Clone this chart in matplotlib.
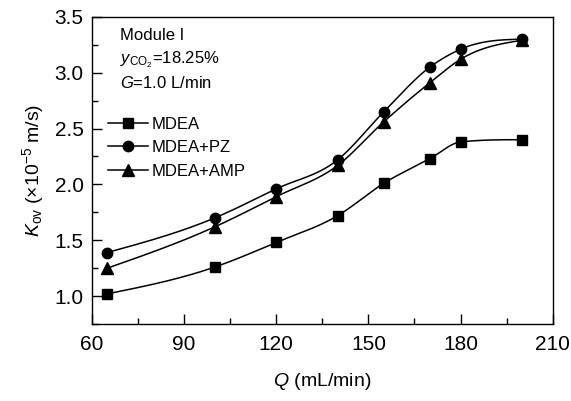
import numpy as np
import matplotlib
matplotlib.use("Agg")
import matplotlib.pyplot as plt
from matplotlib.ticker import MultipleLocator

plt.rcParams['font.family'] = ['Liberation Sans', 'DejaVu Sans']
plt.rcParams['mathtext.fontset'] = 'custom'
plt.rcParams['mathtext.rm'] = 'Liberation Sans'
plt.rcParams['mathtext.it'] = 'Liberation Sans:italic'
plt.rcParams['mathtext.bf'] = 'Liberation Sans:bold'

# liquid flow rate Q (mL/min)
flow = [65, 100, 120, 140, 155, 170, 180, 200]
# K_ov (x1e-5 m/s)
mdea = [1.02, 1.26, 1.48, 1.72, 2.01, 2.23, 2.38, 2.40]
mdea_pz = [1.39, 1.70, 1.96, 2.22, 2.65, 3.05, 3.21, 3.30]
mdea_amp = [1.25, 1.62, 1.89, 2.17, 2.56, 2.91, 3.12, 3.29]


def smooth(x, y, n=300):
    # cubic hermite curve with centred tangents (limited so it never overshoots)
    x = np.asarray(x, float)
    y = np.asarray(y, float)
    h = np.diff(x)
    d = np.diff(y) / h
    m = np.zeros_like(y)
    for i in range(1, len(x) - 1):
        if d[i - 1] * d[i] <= 0:
            continue
        mi = (d[i - 1] * h[i] + d[i] * h[i - 1]) / (h[i - 1] + h[i])
        m[i] = np.sign(mi) * min(abs(mi), 3 * abs(d[i - 1]), 3 * abs(d[i]))
    m[0] = 1.5 * d[0] - 0.5 * m[1]
    m[-1] = 1.5 * d[-1] - 0.5 * m[-2]
    if m[-1] * d[-1] < 0:
        m[-1] = 0
    xs = np.linspace(x[0], x[-1], n)
    idx = np.clip(np.searchsorted(x, xs) - 1, 0, len(x) - 2)
    t = (xs - x[idx]) / h[idx]
    h00 = 2 * t ** 3 - 3 * t ** 2 + 1
    h10 = t ** 3 - 2 * t ** 2 + t
    h01 = -2 * t ** 3 + 3 * t ** 2
    h11 = t ** 3 - t ** 2
    ys = h00 * y[idx] + h10 * h[idx] * m[idx] + h01 * y[idx + 1] + h11 * h[idx] * m[idx + 1]
    return xs, ys


fig = plt.figure(figsize=(5.71, 4.01), dpi=100)
ax = fig.add_axes([0.161, 0.192, 0.807, 0.766])

series = [(mdea, 's', 'MDEA'), (mdea_pz, 'o', 'MDEA+PZ'), (mdea_amp, '^', 'MDEA+AMP')]
for vals, mk, lab in series:
    xs, ys = smooth(flow, vals)
    ax.plot(xs, ys, color='black', lw=1.1)
    ax.plot(flow, vals, ls='none', marker=mk, color='black', ms=8 if mk == '^' else 7.5)
    ax.plot([], [], color='black', lw=1.1, marker=mk, ms=8 if mk == '^' else 7.5, label=lab)

ax.set_xlim(60, 210)
ax.set_ylim(0.75, 3.5)
ax.xaxis.set_major_locator(MultipleLocator(30))
ax.xaxis.set_minor_locator(MultipleLocator(15))
ax.yaxis.set_major_locator(MultipleLocator(0.5))
ax.yaxis.set_minor_locator(MultipleLocator(0.25))
ax.yaxis.set_major_formatter(plt.FormatStrFormatter('%.1f'))
ax.tick_params(which='both', direction='in', top=False, right=False, labelsize=15)
ax.tick_params(which='major', length=7, width=1)
ax.tick_params(which='minor', length=4, width=1)
ax.tick_params(axis='x', pad=8)
ax.tick_params(axis='y', pad=6)
for s in ax.spines.values():
    s.set_linewidth(1)

ax.set_xlabel('$Q$ (mL/min)', fontsize=14, labelpad=12)
ax.set_ylabel('$K_{\\mathrm{ov}}$ ($\\times$10$^{-5}$ m/s)', fontsize=14, labelpad=6)

ax.text(0.06, 0.94, 'Module I', transform=ax.transAxes, fontsize=12, va='center')
ax.text(0.06, 0.862, '$y_{\\mathrm{CO_2}}$=18.25%', transform=ax.transAxes, fontsize=12, va='center')
ax.text(0.06, 0.785, '$G$=1.0 L/min', transform=ax.transAxes, fontsize=12, va='center')

ax.legend(loc='upper left', bbox_to_anchor=(0.035, 0.674), frameon=False, fontsize=12,
          handlelength=2.4, handletextpad=0.2, labelspacing=0.5, borderaxespad=0,
          borderpad=0)

fig.savefig('out.png', dpi=100)
